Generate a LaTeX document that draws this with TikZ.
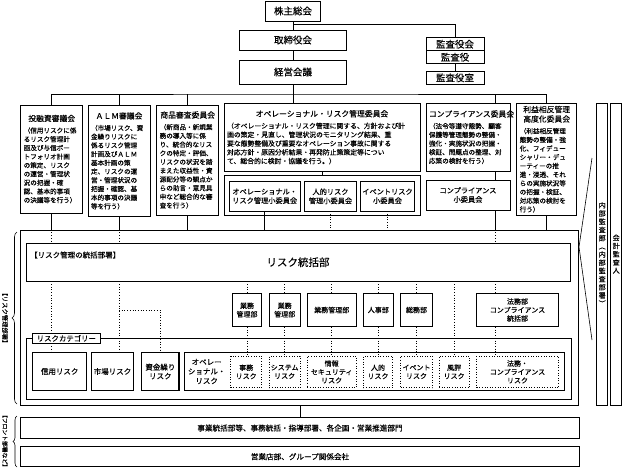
\documentclass[tikz,border=0pt]{standalone}
\usepackage{fontspec}
\setmainfont{Noto Sans CJK JP}[FakeBold=0.25]
\usepackage{tikz}
\usetikzlibrary{
    decorations.pathreplacing,
    calc
}
\newcommand{\fsbody}{\fontsize{6.6}{8.7}\selectfont}
\newcommand{\fstitle}{\fontsize{7.8}{9.5}\selectfont}
\newcommand{\fssub}{\fontsize{7.2}{9}\selectfont}
\newcommand{\fsbox}{\fontsize{7}{8.5}\selectfont}
\newcommand{\fsbig}{\fontsize{9.5}{11}\selectfont}
\tikzset{bx/.style={draw, rectangle, inner sep=0pt, align=center, line width=0.6pt, fill=white}}
\tikzset{cmte/.style={draw, rectangle, inner sep=3pt, align=left, line width=0.6pt, fill=white, font=\fsbody}}
\tikzset{rskb/.style={bx, line width=1.3pt, font=\fontsize{7.5}{9}\selectfont}}
\tikzset{rskd/.style={bx, dotted, line width=0.7pt, font=\fsbox}}
\tikzset{dept/.style={bx, font=\fsbox}}
\tikzset{dotl/.style={dotted, line width=0.7pt}}
\tikzset{ln/.style={line width=0.6pt}}

\begin{document}
\begin{tikzpicture}[x=1pt, y=-1pt]
    \useasboundingbox (0, 0) rectangle (623, 471);
    % top management
    \node[bx, font=\fsbig, minimum width=55pt, minimum height=20pt] (kabu) at (293, 11) {株主総会};
    \node[bx, font=\fsbig, minimum width=107pt, minimum height=20pt] (tori) at (293, 40) {取締役会};
    \node[bx, font=\fsbig, minimum width=107pt, minimum height=24pt] (keiei) at (293, 72) {経営会議};
    \node[bx, font=\fsbig, minimum width=58pt, minimum height=13pt] (kyk) at (455, 44.2) {監査役会};
    \node[bx, font=\fsbig, minimum width=58pt, minimum height=13pt] (ky) at (455, 57.2) {監査役};
    \node[bx, font=\fsbig, minimum width=58pt, minimum height=13.7pt] (kys) at (455, 77.8) {監査役室};

    % committees
    \node[cmte, text width=56pt, minimum height=108pt] (toyushi) at (51.7, 159) {{\centering\fstitle 投融資審議会\par}\vspace{3pt}（信用リスクに係\\るリスク管理計\\画及び与信ポー\\トフォリオ計画\\の策定、リスク\\の運営・管理状\\況の把握・確\\認、基本的事項\\の決議等を行う）};
    \node[cmte, text width=56pt, minimum height=111.7pt] (alm) at (119, 160.85) {{\centering\fstitle ＡＬＭ審議会\par}\vspace{3pt}（市場リスク、資\\金繰りリスクに\\係るリスク管理\\計画及びＡＬＭ\\基本計画の策\\定、リスクの運\\営・管理状況の\\把握・確認、基\\本的事項の決議\\等を行う）};
    \node[cmte, text width=56pt, minimum height=110pt] (shohin) at (187.7, 160) {{\centering\fstitle 商品審査委員会\par}\vspace{3pt}（新商品・新規業\\務の導入等に係\\り、統合的なリス\\クの特定・評価、\\リスクの状況を踏\\まえた収益性・資\\源配分等の観点か\\らの助言・意見具\\申など総合的な審\\査を行う）};
    \node[cmte, font=\fontsize{6.85}{8.8}\selectfont, text width=190pt, minimum height=67.7pt] (ope) at (322, 137.2) {{\centering\fstitle オペレーショナル・リスク管理委員会\par}\vspace{3pt}（オペレーショナル・リスク管理に関する、方針および計\\画の策定・見直し、管理状況のモニタリング結果、重\\要な態勢整備及び重要なオペレーション事故に関する\\対応方針・原因分析結果・再発防止策策定等につい\\て、総合的に検討・協議を行う。）};
    \node[bx, minimum width=196pt, minimum height=39.8pt] (opegrp) at (322, 195.6) {};
    \node[bx, font=\fssub, minimum width=70.7pt, minimum height=29.3pt] (sub1) at (264.7, 196.3) {オペレーショナル・\\リスク管理小委員会};
    \node[bx, font=\fssub, minimum width=52.4pt, minimum height=29.3pt] (sub2) at (330.5, 196.3) {人的リスク\\管理小委員会};
    \node[bx, font=\fssub, minimum width=53.6pt, minimum height=29.3pt] (sub3) at (387.5, 196.3) {イベントリスク\\小委員会};
    \node[cmte, text width=78pt, minimum height=67.7pt] (comp) at (468, 137.2) {{\centering\fstitle コンプライアンス委員会\par}\vspace{3pt}（法令等遵守態勢、顧客\\保護等管理態勢の整備・\\強化・実施状況の把握・\\検証、問題点の整理、対\\応策の検討を行う）};
    \node[bx, font=\fssub, minimum width=84pt, minimum height=30pt] (compsub) at (468, 195) {コンプライアンス\\小委員会};
    \node[cmte, text width=54pt, minimum height=111.7pt] (rieki) at (546.7, 159.2) {{\centering\fstitle 利益相反管理\\高度化委員会\par}\vspace{3pt}（利益相反管理\\態勢の整備・強\\化、フィデュー\\シャリー・デュ\\ーティーの推\\進・浸透、それ\\らの実施状況等\\の把握・検証、\\対応策の検討を\\行う）};

    % risk management departments
    \node[bx, minimum width=557.6pt, minimum height=175pt] (frame) at (299.5, 317.5) {};
    \node[bx, font=\fontsize{10.5}{12}\selectfont, minimum width=544pt, minimum height=37.7pt] (toukatsu) at (298, 262.2) {リスク統括部};
    \node[anchor=west, font=\fontsize{7.5}{9}\selectfont, inner sep=0pt] (tklbl) at (30, 255) {【リスク管理の統括部署】};
    \node[dept, minimum width=29.4pt, minimum height=33.4pt] (g1) at (247, 310) {業務\\管理部};
    \node[dept, minimum width=30.7pt, minimum height=33.4pt] (g2) at (284.7, 310) {業務\\管理部};
    \node[dept, minimum width=48.7pt, minimum height=33.4pt] (g3) at (331.7, 310) {業務管理部};
    \node[dept, minimum width=30pt, minimum height=33.4pt] (jinji) at (378.3, 310) {人事部};
    \node[dept, minimum width=31.6pt, minimum height=33.4pt] (somu) at (416.5, 310) {総務部};
    \node[dept, minimum width=81.6pt, minimum height=33.4pt] (homu) at (517.5, 310) {法務部\\コンプライアンス\\統括部};

    % risk categories
    \node[bx, minimum width=545.7pt, minimum height=60.7pt] (riskcat) at (298.85, 368.65) {};
    \node[rskb, minimum width=54pt, minimum height=38.4pt] (shinyo) at (59.7, 371.5) {信用リスク};
    \node[rskb, minimum width=41.6pt, minimum height=38.4pt] (shijo) at (112.5, 371.5) {市場リスク};
    \node[rskb, minimum width=37.3pt, minimum height=38.4pt] (shikin) at (160.35, 371.5) {資金繰り\\リスク};
    \node[rskb, minimum width=380pt, minimum height=38.4pt] (opebig) at (374.3, 371.5) {};
    \node[font=\fontsize{7.5}{9.5}\selectfont, align=center, inner sep=0pt] (opelbl) at (206.7, 371.5) {オペレー\\ショナル・\\リスク};
    \node[rskd, minimum width=31pt, minimum height=31.7pt] (jimu) at (246.2, 371.85) {事務\\リスク};
    \node[rskd, minimum width=30.7pt, minimum height=31.7pt] (sys) at (284.65, 371.85) {システム\\リスク};
    \node[rskd, minimum width=48.7pt, minimum height=31.7pt] (joho) at (331.65, 371.85) {情報\\セキュリティ\\リスク};
    \node[rskd, minimum width=29.4pt, minimum height=31.7pt] (jint) at (378, 371.85) {人的\\リスク};
    \node[rskd, minimum width=31.6pt, minimum height=31.7pt] (event) at (416.5, 371.85) {イベント\\リスク};
    \node[rskd, minimum width=30.3pt, minimum height=31.7pt] (fuhyo) at (454.15, 371.85) {風評\\リスク};
    \node[rskd, minimum width=81.6pt, minimum height=31.7pt] (homur) at (517.5, 371.85) {法務・\\コンプライアンス\\リスク};

    % front offices
    \node[bx, font=\fontsize{7.6}{9}\selectfont, minimum width=558.6pt, minimum height=20.6pt] (front1) at (300, 428) {事業統括部等、事務統括・指導部署、各企画・営業推進部門};
    \node[bx, font=\fontsize{7.6}{9}\selectfont, minimum width=558.6pt, minimum height=20pt] (front2) at (300, 456.7) {営業店部、グループ関係会社};

    % audit
    \node[bx, font=\fontsize{7}{8.2}\selectfont, minimum width=11pt, minimum height=301.7pt] (naibu) at (602.2, 254.15) {内\\部\\監\\査\\部\\︵\\内\\部\\監\\査\\部\\署\\︶};
    \node[bx, font=\fontsize{7}{8.2}\selectfont, minimum width=11pt, minimum height=301.7pt] (kaikei) at (616.2, 254.15) {会\\計\\監\\査\\人};
    \draw[ln] (592, 158) -- (579, 247) -- (592, 340);

    % connectors, top
    \draw[ln] (kabu) -- (tori);
    \draw[ln] (tori) -- (keiei);
    \coordinate (kj) at (293, 24);
    \draw[ln] (kj) -| (kyk.north);
    \draw[ln] (ky) -- (kys);
    \coordinate (bar) at (293, 94);
    \draw[ln] (keiei.south) -- (keiei.south |- ope.north);
    \draw[ln] (toyushi.north) |- (bar) -| (rieki.north);
    \foreach \c in {alm, shohin}
        \draw[ln] (\c.north) -- (\c.north |- bar);
    \coordinate (cl) at ([xshift=27pt]comp.north);
    \draw[ln] (cl) -- (cl |- bar);
    \draw[ln] (ope) -- (opegrp);
    \draw[ln] (cl |- comp.south) -- (cl |- compsub.north);
    \foreach \c in {toyushi, alm, shohin, sub1, rieki}
        \draw[ln] (\c.south) -- (\c.south |- frame.north);
    \draw[ln] (cl |- compsub.south) -- (cl |- frame.north);
    \foreach \c in {sub2, sub3}
        \draw[dotl] (\c.south) -- (\c.south |- frame.north);

    % connectors, inside
    \foreach \c/\r in {toyushi/shinyo, alm/shijo} {
        \draw[dotl] (\c.south |- frame.north) -- (\c.south |- toukatsu.north);
        \draw[dotl] (\c.south |- toukatsu.south) -- (\c.south |- \r.north);
    }
    \coordinate (ab) at (alm.south |- g1);
    \draw[dotl] (ab) -| (shikin.north);
    \draw[dotl] (cl |- frame.north) -- (cl |- toukatsu.north);
    \draw[dotl] (cl |- toukatsu.south) -- (cl |- homu.north);
    \draw[dotl] (cl |- homu.south) -- (cl |- homur.north);
    \foreach \d/\r in {g1/jimu, g2/sys, g3/joho, jinji/jint, somu/event} {
        \draw[dotl] (\d.north |- toukatsu.south) -- (\d.north);
        \draw[dotl] (\d.south) -- (\d.south |- \r.north);
    }
    \draw[dotl] (fuhyo.north |- toukatsu.south) -- (fuhyo.north);
    \draw[ln] (front1.north |- frame.south) -- (front1.north);

    \node[bx, font=\fontsize{7.4}{9}\selectfont, minimum width=67.3pt, minimum height=10pt] (tag) at (66.35, 338.3) {リスクカテゴリー};

    % braces
    \draw[ln, decorate, decoration={brace, amplitude=5pt}] (17, 404) -- (17, 232);
    \draw[ln, decorate, decoration={brace, amplitude=4pt}] (17, 467) -- (17, 416);
    \node[rotate=-90, font=\fontsize{6.3}{7}\selectfont, inner sep=0pt] (lrisk) at (5, 318) {【リスク管理部署】};
    \node[rotate=-90, font=\fontsize{5.8}{7}\selectfont, inner sep=0pt] (lfront) at (5, 441) {【フロント部署など】};
\end{tikzpicture}
\end{document}
